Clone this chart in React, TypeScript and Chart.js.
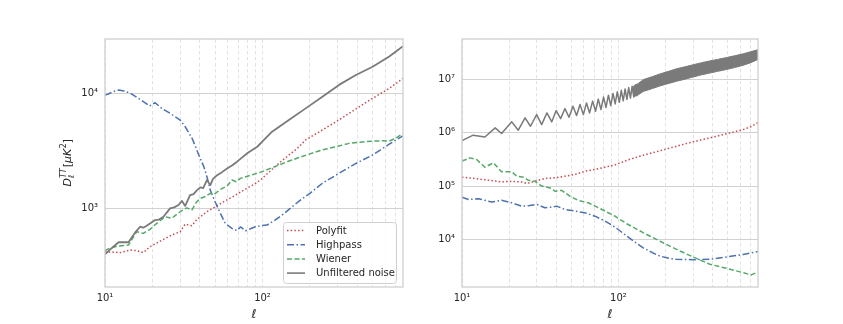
import React, { useEffect, useRef } from "react";
import { Chart, registerables } from "chart.js";

Chart.register(...registerables);

type Pt = [number, number];

const FONT = "'DejaVu Sans', sans-serif";
const TEXT = "#262626";

const X_MIN = 10;
const X_MAX = 780;
const X_GRID_TICKS = [10, 20, 30, 40, 50, 60, 70, 80, 90, 100, 200, 300, 400, 500, 600, 700];
const X_LABEL_TICKS = [10, 100];
const LEFT_Y_TICKS = [1e3, 1e4];
const RIGHT_Y_TICKS = [1e4, 1e5, 1e6, 1e7];
const LEFT_Y_MIN = 208;
const LEFT_Y_MAX = 29400;
const RIGHT_Y_MIN = 1270;
const RIGHT_Y_MAX = 5.8e7;

const SERIES_NAMES = ["Polyfit", "Highpass", "Wiener", "Unfiltered noise"];
const Y_TITLE = { base: "D", sub: "ℓ", sup: "TT", unitPre: "[", unitMu: "μ", unitK: "K", unitSup: "2", unitPost: "]" };
const X_TITLE = "ℓ";

// ---------- left panel ----------
const leftPolyfit: Pt[] = [
  [10, 420], [11, 418], [12.5, 413], [14.4, 435], [15.9, 430], [17.5, 413], [19.3, 465],
  [22.4, 520], [26.5, 586], [28.5, 610], [30, 627], [32.3, 730], [35.6, 707], [38, 790],
  [40.3, 846], [44.4, 935], [50, 1030], [56.6, 1140], [66, 1280], [76, 1440], [88, 1610],
  [97, 1760], [120, 2300], [147, 2900], [166, 3300], [188, 3920], [240, 4780], [306, 5840],
  [392, 7270], [500, 8990], [638, 10970], [700, 12000], [780, 13400],
];
const leftHighpass: Pt[] = [
  [10, 9600], [10.5, 9800], [11.3, 10300], [12.2, 10600], [13.2, 10400], [14.4, 10000],
  [16.3, 9000], [17.8, 8300], [19.2, 7710], [20.8, 8240], [22.9, 7360], [25.9, 6670],
  [28, 6200], [30, 5830], [32.3, 5100], [35.7, 4050], [37.5, 3450], [39.4, 2900],
  [42.4, 2300], [44.4, 1880], [46.6, 1440], [50, 1140], [54, 905], [58, 741], [64, 671],
  [69, 640], [72.5, 690], [78, 640], [84, 665], [90, 693], [97, 707], [107, 717],
  [120, 790], [137, 900], [150, 1000], [174, 1180], [200, 1350], [240, 1650], [300, 1980],
  [392, 2450], [500, 2900], [638, 3600], [700, 3900], [780, 4250],
];
const leftWiener: Pt[] = [
  [10, 430], [10.5, 445], [11.9, 470], [14.1, 480], [15.1, 560], [15.9, 627], [17.5, 607],
  [19.3, 658], [21.3, 741], [24.1, 846], [26.5, 819], [30, 935], [33, 1010], [35.6, 967],
  [38, 1130], [40.3, 1220], [43, 1260], [46.6, 1350], [50, 1340], [54, 1460], [59.6, 1560],
  [64, 1760], [68, 1700], [72.4, 1820], [84, 1940], [94.6, 2030], [120, 2300], [147, 2570],
  [190, 2900], [240, 3210], [300, 3450], [355, 3660], [420, 3750], [500, 3830], [580, 3850],
  [638, 3830], [700, 4050], [780, 4450],
];
const leftUnfiltered: Pt[] = [
  [10, 400], [10.6, 430], [11.3, 465], [12.2, 508], [13, 510], [14.1, 508], [15.5, 615],
  [16.7, 693], [17.5, 680], [18.4, 707], [20.8, 792], [22, 800], [23.5, 846], [25.9, 1000],
  [27.5, 1020], [29.3, 1070], [30.8, 1160], [32.3, 1050], [34.7, 1300], [36.5, 1330],
  [38.4, 1440], [40.3, 1520], [42, 1500], [44.4, 1760], [46.6, 1590], [48.5, 1800],
  [51.5, 1940], [55, 2050], [59.6, 2220], [64, 2350], [69, 2540], [74, 2750], [80, 3000],
  [86, 3200], [92.6, 3420], [100, 3800], [115, 4620], [147, 5840], [188, 7360], [240, 9270],
  [306, 11760], [392, 14330], [500, 16900], [638, 20700], [700, 22800], [780, 25500],
];

// ---------- right panel ----------
const rightPolyfit: Pt[] = [
  [10, 147000], [12.1, 139000], [14.7, 129000], [17.9, 120000], [20.8, 123000],
  [24.1, 119000], [25.9, 112000], [29.3, 123000], [33.9, 139000], [39.3, 143000],
  [45.5, 153000], [52.7, 165000], [61, 190000], [70.7, 205000], [82, 226000], [95, 250000],
  [115, 310000], [144, 380000], [184, 460000], [235, 561000], [300, 680000], [384, 805000],
  [491, 960000], [627, 1150000], [700, 1300000], [780, 1560000],
];
const rightHighpass: Pt[] = [
  [10, 62000], [11, 56000], [12.7, 58000], [14, 54000], [15.5, 50000], [17.9, 54000],
  [20.8, 48600], [24.1, 42000], [27, 43000], [30, 45400], [33.9, 39200], [37, 40000],
  [40.3, 42000], [45.5, 36400], [52.7, 33900], [61, 31600], [70.7, 27200], [82, 22000],
  [95, 17000], [113, 11500], [130, 8500], [144, 6900], [165, 5600], [184, 4840], [210, 4400],
  [235, 4200], [300, 4140], [384, 4200], [491, 4650], [627, 5200], [780, 5900],
];
const rightWiener: Pt[] = [
  [10, 294000], [11.2, 339000], [12.4, 316000], [14, 226000], [15.9, 273000],
  [17.9, 185000], [20.8, 185000], [22.4, 153000], [24.7, 147000], [26.5, 129000],
  [29.3, 123000], [32.3, 100000], [35, 95000], [37.4, 90000], [39.3, 80000], [43.4, 83000],
  [48.9, 64600], [55.4, 53700], [64.2, 48600], [74.4, 39200], [86, 31600], [95, 27200],
  [113, 19600], [144, 13300], [184, 9270], [235, 6460], [300, 4650], [384, 3390],
  [491, 2850], [627, 2360], [706, 2140], [780, 2450],
];
const rightUnfilteredOsc: Pt[] = [
  [10, 718e3], [11.8, 904e3], [14.0, 838e3], [16.3, 1.24e6], [17.9, 0.97e6], [20.8, 1.61e6],
  [22.9, 1.12e6], [25.3, 1.91e6], [27.4, 1.33e6], [30, 2.2e6], [32.3, 1.43e6], [34.9, 2.37e6],
  [37.5, 1.61e6], [40, 2.62e6], [42.7, 1.85e6], [45.5, 2.86e6], [48.3, 1.96e6], [51.2, 3.16e6],
  [54, 2.11e6], [56.8, 3.4e6], [59.7, 2.2e6], [62.5, 3.65e6], [65.4, 2.37e6], [68.4, 3.95e6],
  [71.4, 2.55e6], [74.3, 4.3e6], [77.3, 2.75e6], [80.3, 4.7e6], [83.3, 3.0e6], [86.3, 5.1e6],
  [89.3, 3.25e6], [92.3, 5.5e6], [95.3, 3.5e6], [98.3, 5.9e6], [101.3, 3.75e6], [104.3, 6.3e6],
  [107.3, 4.0e6], [110.3, 6.7e6], [113.3, 4.25e6], [116.3, 7.1e6], [119.3, 4.5e6],
  [122.3, 7.5e6], [125.3, 4.75e6], [128.3, 7.9e6], [131.3, 5.0e6], [134.3, 8.3e6],
];
const rightBandEll = [124, 134, 144, 165, 184, 210, 235, 270, 300, 340, 384, 430, 491, 560, 627, 700, 780];
const rightBandUpper = [7.4e6, 8.5e6, 10.0e6, 11.4e6, 12.8e6, 14.4e6, 16.0e6, 17.6e6, 19.0e6, 20.8e6, 22.5e6, 24.0e6, 26.0e6, 28.3e6, 30.5e6, 33.5e6, 36.5e6];
const rightBandLower = [4.7e6, 5.2e6, 6.0e6, 6.8e6, 7.6e6, 8.5e6, 9.3e6, 10.3e6, 11.2e6, 12.3e6, 13.3e6, 14.3e6, 15.5e6, 17.0e6, 18.6e6, 20.8e6, 24.0e6];

// ---------- styles ----------
const RED = "#C44E52";
const BLUE = "#4C72B0";
const GREEN = "#55A868";
const GRAY = "#7a7a7a";
const DASH_DOT = [1.5, 2.2];
const DASH_DASHDOT = [7, 2.5, 1.5, 2.5];
const DASH_DASHED = [5, 2.5];

const SUP: Record<string, string> = { "0": "⁰", "1": "¹", "2": "²", "3": "³", "4": "⁴", "5": "⁵", "6": "⁶", "7": "⁷", "8": "⁸", "9": "⁹" };
const powLabel = (v: number) => {
  const e = Math.round(Math.log10(v));
  return "10" + String(e).split("").map((c) => SUP[c]).join("");
};

const toXY = (arr: Pt[]) => arr.map(([x, y]) => ({ x, y }));

function lineDs(label: string, pts: Pt[], color: string, dash: number[], width: number, order: number) {
  return {
    label,
    data: toXY(pts),
    borderColor: color,
    backgroundColor: color,
    borderWidth: width,
    borderDash: dash,
    borderCapStyle: "butt",
    borderJoinStyle: "round",
    pointRadius: 0,
    pointHoverRadius: 0,
    fill: false,
    tension: 0,
    order,
  };
}

function makeScales(yMin: number, yMax: number, yTicks: number[], yWidth: number) {
  return {
    x: {
      type: "logarithmic",
      min: X_MIN,
      max: X_MAX,
      afterBuildTicks: (s: any) => {
        s.ticks = X_GRID_TICKS.map((v) => ({ value: v }));
      },
      afterFit: (s: any) => {
        s.height = 37;
      },
      ticks: {
        autoSkip: false,
        maxRotation: 0,
        minRotation: 0,
        padding: 5,
        color: TEXT,
        font: { family: FONT, size: 10 },
        callback: (v: any) => (X_LABEL_TICKS.includes(Number(v)) ? powLabel(Number(v)) : ""),
      },
      grid: { color: "#e2e2e2", lineWidth: 1, drawTicks: false },
      border: { display: false, dash: [3.5, 2.5] },
      title: {
        display: true,
        text: X_TITLE,
        color: TEXT,
        font: { family: FONT, size: 12, style: "italic" },
        padding: { top: 0, bottom: 2 },
      },
    },
    y: {
      type: "logarithmic",
      min: yMin,
      max: yMax,
      afterBuildTicks: (s: any) => {
        s.ticks = yTicks.map((v) => ({ value: v }));
      },
      afterFit: (s: any) => {
        s.width = yWidth;
      },
      ticks: {
        padding: 7,
        color: TEXT,
        font: { family: FONT, size: 10 },
        callback: (v: any) => powLabel(Number(v)),
      },
      grid: { color: "#d2d2d2", lineWidth: 1, drawTicks: false },
      border: { display: false },
    },
  };
}

const framePlugin = {
  id: "frame",
  afterDatasetsDraw(chart: any) {
    const { ctx, chartArea: a } = chart;
    ctx.save();
    ctx.strokeStyle = "#cfcfcf";
    ctx.lineWidth = 1.3;
    ctx.setLineDash([]);
    ctx.strokeRect(a.left, a.top, a.right - a.left, a.bottom - a.top);
    ctx.restore();
  },
};

const yTitlePlugin = {
  id: "yTitle",
  afterDraw(chart: any) {
    const { ctx, chartArea: a } = chart;
    const big = 11;
    const small = 8;
    const fI = (s: number) => `italic ${s}px ${FONT}`;
    const fN = (s: number) => `${s}px ${FONT}`;
    ctx.save();
    ctx.translate(67, (a.top + a.bottom) / 2);
    ctx.rotate(-Math.PI / 2);
    ctx.fillStyle = TEXT;
    ctx.textBaseline = "alphabetic";
    ctx.textAlign = "left";
    const w = (t: string, f: string) => {
      ctx.font = f;
      return ctx.measureText(t).width;
    };
    const wD = w(Y_TITLE.base, fI(big));
    const wStack = Math.max(w(Y_TITLE.sup, fI(small)), w(Y_TITLE.sub, fI(small))) + 1;
    const wL = w(Y_TITLE.unitPre, fN(big));
    const wMu = w(Y_TITLE.unitMu, fI(big));
    const wK = w(Y_TITLE.unitK, fI(big));
    const w2 = w(Y_TITLE.unitSup, fN(small));
    const wR = w(Y_TITLE.unitPost, fN(big));
    const total = wD + wStack + wL + wMu + wK + w2 + wR;
    let x = -total / 2;
    const base = 4;
    ctx.font = fI(big); ctx.fillText(Y_TITLE.base, x, base); x += wD;
    ctx.font = fI(small); ctx.fillText(Y_TITLE.sup, x, base - 5);
    ctx.fillText(Y_TITLE.sub, x, base + 3); x += wStack;
    ctx.font = fN(big); ctx.fillText(Y_TITLE.unitPre, x, base); x += wL;
    ctx.font = fI(big); ctx.fillText(Y_TITLE.unitMu, x, base); x += wMu;
    ctx.fillText(Y_TITLE.unitK, x, base); x += wK;
    ctx.font = fN(small); ctx.fillText(Y_TITLE.unitSup, x + 0.5, base - 5); x += w2 + 0.5;
    ctx.font = fN(big); ctx.fillText(Y_TITLE.unitPost, x, base);
    ctx.restore();
  },
};

const legendPlugin = {
  id: "legendBox",
  afterDraw(chart: any) {
    const { ctx } = chart;
    const bx = 283.5, by = 222.5, bw = 113, bh = 61, r = 3;
    ctx.save();
    ctx.beginPath();
    ctx.moveTo(bx + r, by);
    ctx.lineTo(bx + bw - r, by);
    ctx.quadraticCurveTo(bx + bw, by, bx + bw, by + r);
    ctx.lineTo(bx + bw, by + bh - r);
    ctx.quadraticCurveTo(bx + bw, by + bh, bx + bw - r, by + bh);
    ctx.lineTo(bx + r, by + bh);
    ctx.quadraticCurveTo(bx, by + bh, bx, by + bh - r);
    ctx.lineTo(bx, by + r);
    ctx.quadraticCurveTo(bx, by, bx + r, by);
    ctx.closePath();
    ctx.fillStyle = "rgba(255,255,255,0.8)";
    ctx.fill();
    ctx.strokeStyle = "#d0d0d0";
    ctx.lineWidth = 1;
    ctx.stroke();
    const items = chart.data.datasets;
    items.forEach((ds: any, i: number) => {
      const y = 230.5 + i * 14.2;
      ctx.strokeStyle = ds.borderColor;
      ctx.lineWidth = Math.min(ds.borderWidth, 1.6);
      ctx.setLineDash(ds.borderDash || []);
      ctx.lineCap = "butt";
      ctx.beginPath();
      ctx.moveTo(287, y);
      ctx.lineTo(305, y);
      ctx.stroke();
      ctx.setLineDash([]);
      ctx.fillStyle = TEXT;
      ctx.font = `10px ${FONT}`;
      ctx.textBaseline = "middle";
      ctx.textAlign = "left";
      ctx.fillText(ds.label, 316, y + 0.5);
    });
    ctx.restore();
  },
};

const baseOptions = (padRight: number, scales: any) => ({
  animation: false,
  responsive: false,
  maintainAspectRatio: false,
  events: [],
  layout: { padding: { top: 39, right: padRight, left: 0, bottom: 0 } },
  plugins: { legend: { display: false }, tooltip: { enabled: false } },
  scales,
});

export default function App() {
  const leftRef = useRef<HTMLCanvasElement>(null);
  const rightRef = useRef<HTMLCanvasElement>(null);

  useEffect(() => {
    const left = new Chart(leftRef.current as HTMLCanvasElement, {
      type: "line",
      data: {
        datasets: [
          lineDs(SERIES_NAMES[0], leftPolyfit, RED, DASH_DOT, 1.5, 4),
          lineDs(SERIES_NAMES[1], leftHighpass, BLUE, DASH_DASHDOT, 1.5, 3),
          lineDs(SERIES_NAMES[2], leftWiener, GREEN, DASH_DASHED, 1.5, 2),
          lineDs(SERIES_NAMES[3], leftUnfiltered, GRAY, [], 1.8, 1),
        ] as any,
      },
      options: baseOptions(27, makeScales(LEFT_Y_MIN, LEFT_Y_MAX, LEFT_Y_TICKS, 105)) as any,
      plugins: [framePlugin, yTitlePlugin, legendPlugin],
    });

    const bandUpper = rightBandEll.map((x, i) => [x, rightBandUpper[i]] as Pt);
    const bandLower = rightBandEll.map((x, i) => [x, rightBandLower[i]] as Pt);
    const upperDs: any = lineDs(SERIES_NAMES[3], bandUpper, GRAY, [], 1, 1);
    const lowerDs: any = lineDs(SERIES_NAMES[3], bandLower, GRAY, [], 1, 1);
    lowerDs.fill = "-1";
    lowerDs.backgroundColor = GRAY;

    const right = new Chart(rightRef.current as HTMLCanvasElement, {
      type: "line",
      data: {
        datasets: [
          lineDs(SERIES_NAMES[0], rightPolyfit, RED, DASH_DOT, 1.5, 4),
          lineDs(SERIES_NAMES[1], rightHighpass, BLUE, DASH_DASHDOT, 1.5, 3),
          lineDs(SERIES_NAMES[2], rightWiener, GREEN, DASH_DASHED, 1.5, 2),
          lineDs(SERIES_NAMES[3], rightUnfilteredOsc, GRAY, [], 1.5, 1),
          upperDs,
          lowerDs,
        ] as any,
      },
      options: baseOptions(85, makeScales(RIGHT_Y_MIN, RIGHT_Y_MAX, RIGHT_Y_TICKS, 32)) as any,
      plugins: [framePlugin],
    });

    return () => {
      left.destroy();
      right.destroy();
    };
  }, []);

  return (
    <div style={{ position: "absolute", left: 0, top: 0, width: 843, height: 324, background: "#ffffff" }}>
      <canvas ref={leftRef} width={430} height={324} style={{ position: "absolute", left: 0, top: 0, width: 430, height: 324 }} />
      <canvas ref={rightRef} width={413} height={324} style={{ position: "absolute", left: 430, top: 0, width: 413, height: 324 }} />
    </div>
  );
}
